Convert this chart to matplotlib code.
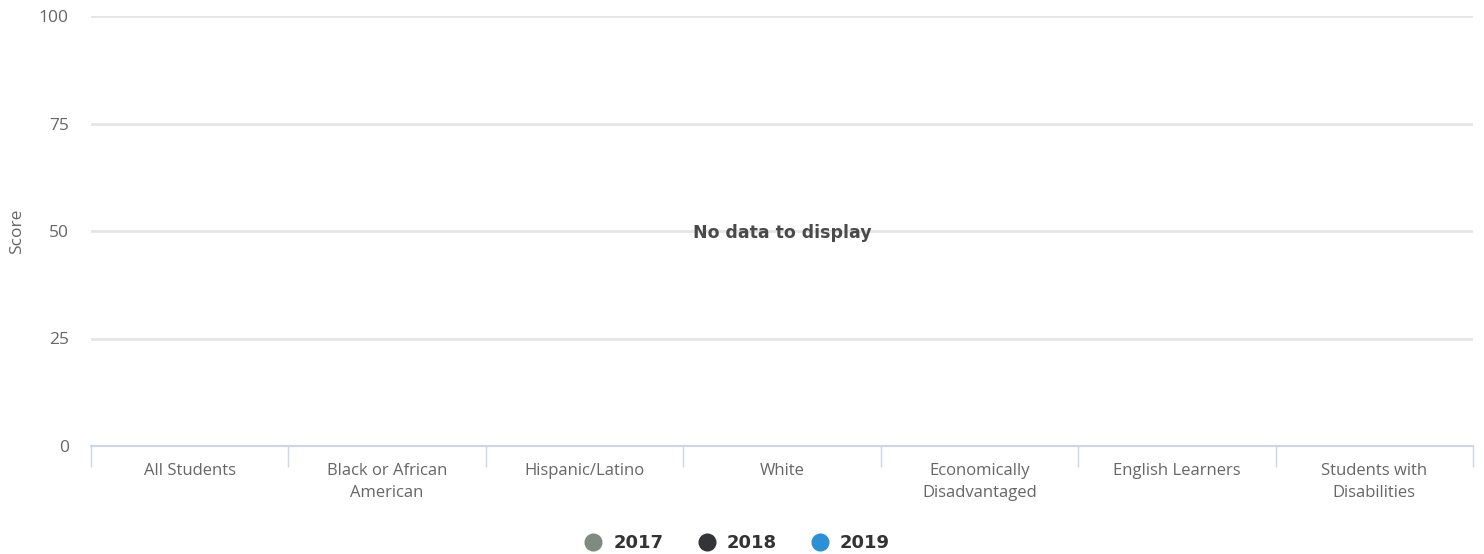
import matplotlib
matplotlib.use("Agg")
import matplotlib.pyplot as plt
from matplotlib.lines import Line2D
import numpy as np

categories = ["All Students", "Black or African\nAmerican", "Hispanic/Latino", "White",
              "Economically\nDisadvantaged", "English Learners", "Students with\nDisabilities"]
years = ["2017", "2018", "2019"]
colors = ["#7f8b7f", "#323438", "#2b91d5"]
values_2017 = []
values_2018 = []
values_2019 = []
series = [values_2017, values_2018, values_2019]
y_ticks = [0, 25, 50, 75, 100]

FONT = "Open Sans"
W, H = 1484, 554
fig = plt.figure(figsize=(W / 100, H / 100), dpi=100)
ax = fig.add_axes([91 / W, (H - 446) / H, (1473 - 91) / W, (446 - 16) / H])

for yr, col, vals in zip(years, colors, series):
    ax.bar(np.arange(len(vals)), vals, color=col, label=yr)

ax.set_xlim(-0.5, len(categories) - 0.5)
ax.set_ylim(0, 100)
ax.set_yticks(y_ticks)
ax.set_yticklabels([str(v) for v in y_ticks], fontsize=12.5, color="#666666", family=FONT)
ax.tick_params(axis="y", length=0, pad=16)
ax.yaxis.grid(True, color="#e6e6e6", linewidth=2)
ax.set_axisbelow(True)

ax.set_xticks(np.arange(len(categories)))
ax.set_xticklabels(categories, fontsize=12, color="#666666", family=FONT, linespacing=1.45)
ax.tick_params(axis="x", which="major", length=0, pad=12.5)
ax.set_xticks(np.arange(len(categories) + 1) - 0.5, minor=True)
ax.tick_params(axis="x", which="minor", length=15, width=1, color="#ccd6eb")

for s in ["top", "right", "left"]:
    ax.spines[s].set_visible(False)
ax.spines["bottom"].set_color("#ccd6eb")
ax.spines["bottom"].set_linewidth(1.5)

ax.set_ylabel("Score", fontsize=12.5, color="#666666", family=FONT, labelpad=10)

ax.text(0.5, 0.495, "No data to display", transform=ax.transAxes, ha="center", va="center",
        fontsize=12.5, fontweight="bold", color="#4a4a4a", family="DejaVu Sans")

handles = [Line2D([0], [0], marker="o", linestyle="", markersize=12, markerfacecolor=c,
                  markeredgecolor=c) for c in colors]
leg = fig.legend(handles, years, loc="center", bbox_to_anchor=(737 / W, (H - 543) / H), ncol=3,
                 frameon=False, handletextpad=0.6, columnspacing=1.9, handlelength=1.0,
                 prop={"family": "DejaVu Sans", "weight": "bold", "size": 13})
for t in leg.get_texts():
    t.set_color("#333333")

fig.savefig("out.png", dpi=100)
